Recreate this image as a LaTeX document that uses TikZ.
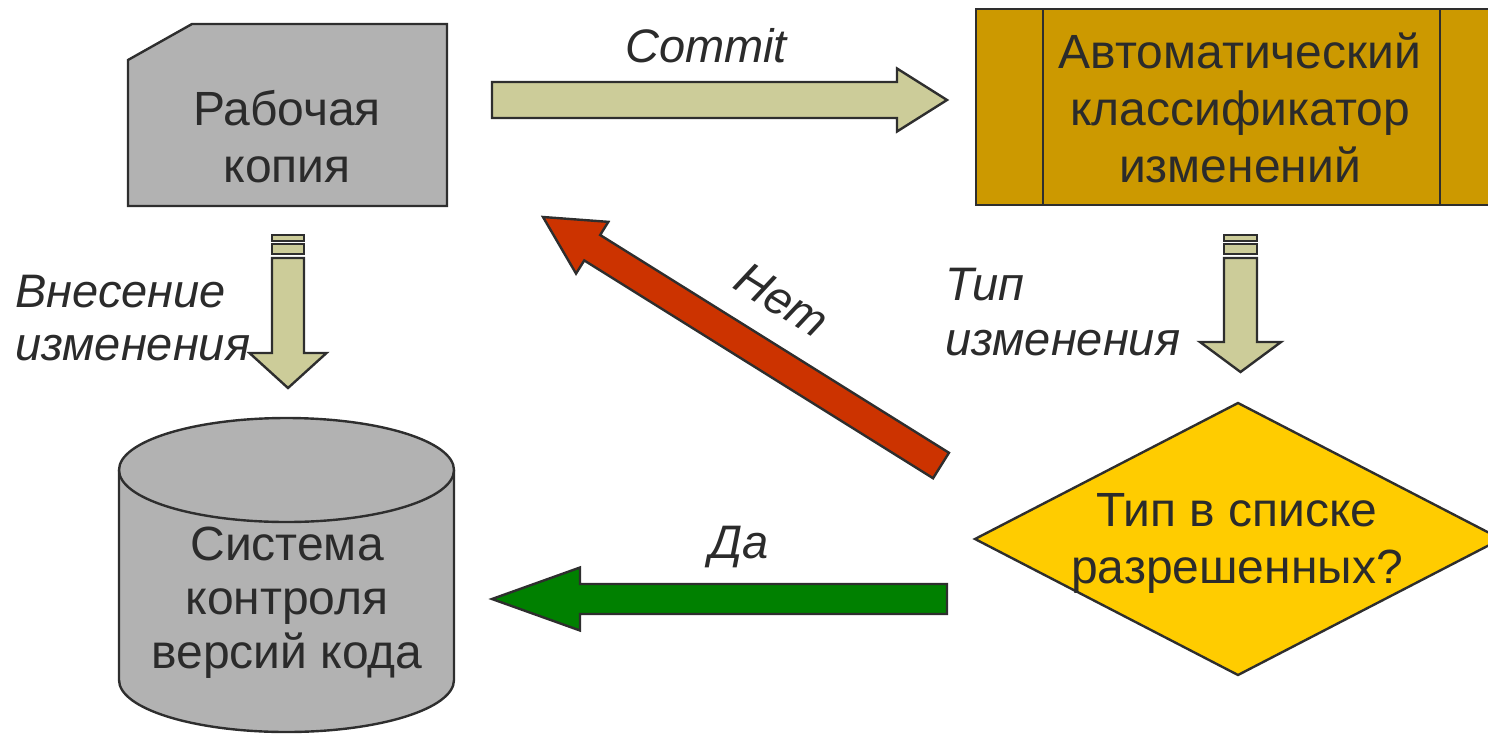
\documentclass[tikz,border=0pt]{standalone}
\usepackage{fontspec}
\setmainfont{Liberation Sans}
\usetikzlibrary{calc}
\definecolor{olivefill}{HTML}{CCCC99}
\definecolor{cardgray}{HTML}{B2B2B2}
\definecolor{procfill}{HTML}{CC9900}
\definecolor{decfill}{HTML}{FFCC00}
\definecolor{redfill}{HTML}{CC3300}
\definecolor{greenfill}{HTML}{008000}
\definecolor{ink}{HTML}{2B2B2B}
\definecolor{edge}{HTML}{2E2E2E}
% #1 start, #2 tip, #3 half shaft, #4 half head, #5 head length, #6 fill
\newcommand\blockarrow[6]{%
  \path coordinate (ba-s) at (#1) coordinate (ba-e) at (#2);
  \path coordinate (ba-b) at ($(ba-e)!#5!(ba-s)$);
  \draw[outline, fill=#6]
    ($(ba-s)!#3!90:(ba-e)$) -- ($(ba-b)!#3!-90:(ba-s)$) -- ($(ba-b)!#4!-90:(ba-s)$)
    -- (ba-e) -- ($(ba-b)!#4!90:(ba-s)$) -- ($(ba-b)!#3!90:(ba-s)$)
    -- ($(ba-s)!#3!-90:(ba-e)$) -- cycle;
}
\tikzset{
  outline/.style={draw=edge, line width=2.4pt, line join=miter},
  boxtext/.style={text=ink, font=\fontsize{48}{57}\selectfont, align=center, inner sep=0pt},
  labeltext/.style={text=ink, font=\fontsize{47}{54}\selectfont\itshape, inner sep=0pt},
}
\begin{document}
\begin{tikzpicture}[x=1pt,y=-1pt]
\useasboundingbox (0,0) rectangle (1488,734);

% ---- Working copy (card)
\draw[outline, fill=cardgray] (192,24) -- (447,24) -- (447,206) -- (128,206) -- (128,60) -- cycle;
\node[boxtext] (work) at (287,137) {Рабочая\\копия};

% ---- Classifier (predefined process)
\draw[outline, fill=procfill] (976,9) rectangle (1510,205);
\draw[outline] (1043,9) -- (1043,205);
\draw[outline] (1440,9) -- (1440,205);
\node[boxtext] (cls) at (1240,108) {Автоматический\\классификатор\\изменений};

% ---- Decision
\draw[outline, fill=decfill] (1238,403) -- (1501,539) -- (1238,675) -- (975,539) -- cycle;
\node[boxtext] (dec) at (1237,543) {Тип в списке\\разрешенных?};

% ---- VCS (cylinder)
\draw[outline, fill=cardgray] (119,470) -- (119,680) arc[start angle=180, end angle=0, x radius=167.5, y radius=52] -- (454,470);
\draw[outline, fill=cardgray] (286.5,470) ellipse[x radius=167.5, y radius=52];
\node[boxtext, font=\fontsize{48}{54}\selectfont] (vcs) at (287,603) {Система\\контроля\\версий кода};

% ---- Arrows
\coordinate (commitS) at (492,100);
\coordinate (commitE) at (947,100);
\blockarrow{commitS}{commitE}{18pt}{31.5pt}{50pt}{olivefill}

\coordinate (daS) at (947,599);
\coordinate (daE) at (492,599);
\blockarrow{daS}{daE}{15pt}{31.5pt}{88pt}{greenfill}

\coordinate (netS) at (941,465.5);
\coordinate (netE) at (543,217);
\blockarrow{netS}{netE}{15pt}{30.5pt}{58pt}{redfill}

% left down arrow
\draw[outline, fill=olivefill] (272,235) rectangle (304,241);
\draw[outline, fill=olivefill] (272,244) rectangle (304,254);
\coordinate (ldS) at (288,258);
\coordinate (ldE) at (288,388);
\blockarrow{ldS}{ldE}{16pt}{38.5pt}{35pt}{olivefill}

% right down arrow
\draw[outline, fill=olivefill] (1224,235) rectangle (1257,241);
\draw[outline, fill=olivefill] (1224,244) rectangle (1257,254);
\coordinate (rdS) at (1240.5,258);
\coordinate (rdE) at (1240.5,372);
\blockarrow{rdS}{rdE}{16.5pt}{40.5pt}{30pt}{olivefill}

% ---- Labels
\node[labeltext, anchor=base] (lcommit) at (706,62) {Commit};
\node[labeltext, anchor=base west] (lvn1) at (15,307) {Внесение};
\node[labeltext, anchor=base west] (lvn2) at (15,360) {изменения};
\node[labeltext, anchor=base west] (ltip1) at (945,300) {Тип};
\node[labeltext, anchor=base west] (ltip2) at (945,355) {изменения};
\node[labeltext, rotate=-32] (lnet) at (782,300) {Нет};
\node[labeltext, anchor=base] (lda) at (739,558) {Да};
\end{tikzpicture}
\end{document}
